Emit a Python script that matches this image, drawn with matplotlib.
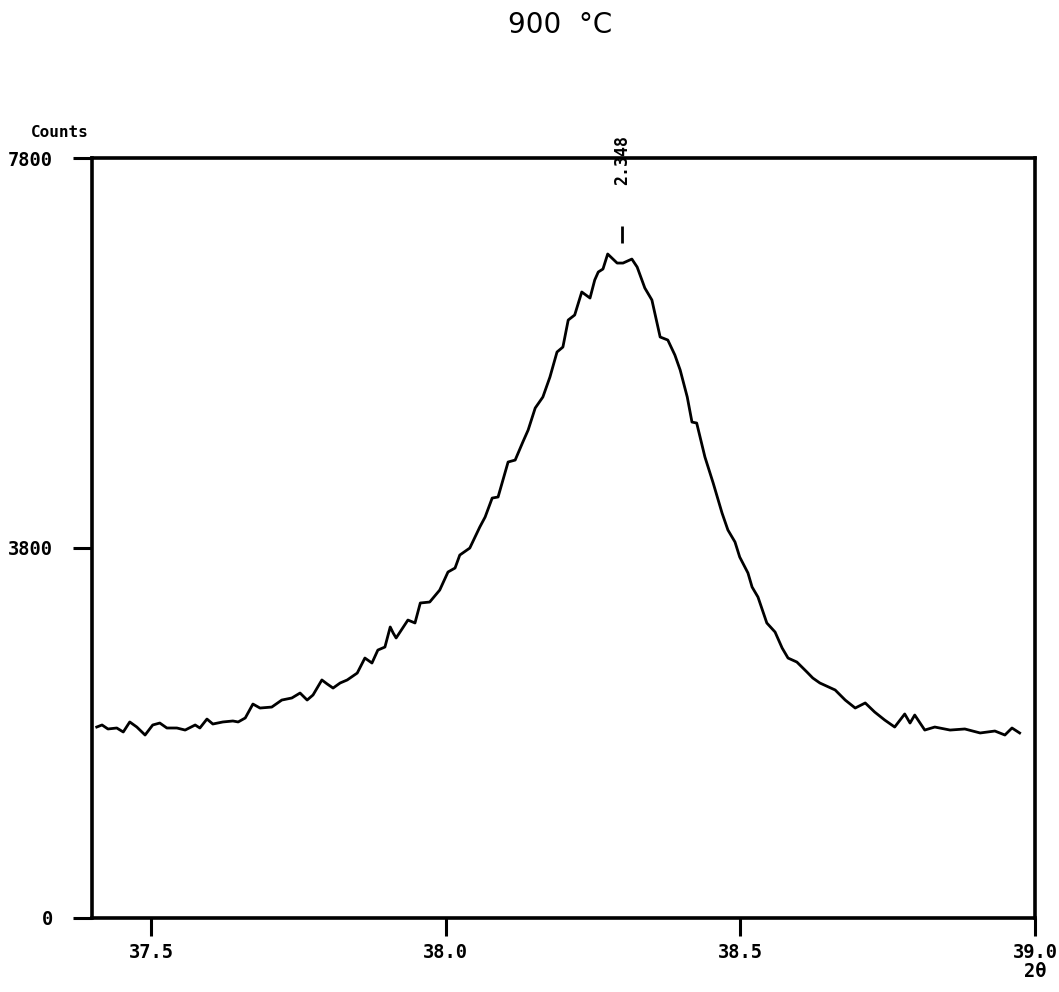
import matplotlib
matplotlib.use("Agg")
import matplotlib.pyplot as plt

# scan around the (111) reflection, 2theta in degrees vs counts
two_theta = [
    37.408, 37.417, 37.427, 37.442, 37.453, 37.464, 37.476, 37.490, 37.503, 37.515,
    37.527, 37.544, 37.558, 37.575, 37.583, 37.595, 37.605, 37.622, 37.639, 37.648,
    37.660, 37.673, 37.685, 37.705, 37.722, 37.739, 37.753, 37.765, 37.775, 37.790,
    37.799, 37.809, 37.821, 37.833, 37.850, 37.863, 37.875, 37.885, 37.897, 37.906,
    37.911, 37.916, 37.936, 37.948, 37.957, 37.973, 37.990, 38.004, 38.016, 38.024,
    38.041, 38.058, 38.067, 38.079, 38.089, 38.106, 38.118, 38.131, 38.140, 38.152,
    38.165, 38.177, 38.189, 38.199, 38.208, 38.219, 38.231, 38.245, 38.253, 38.259,
    38.267, 38.275, 38.291, 38.301, 38.316, 38.325, 38.338, 38.350, 38.364, 38.377,
    38.389, 38.398, 38.410, 38.418, 38.426, 38.440, 38.454, 38.469, 38.479, 38.491,
    38.499, 38.513, 38.520, 38.530, 38.545, 38.559, 38.571, 38.581, 38.596, 38.613,
    38.623, 38.635, 38.661, 38.678, 38.695, 38.712, 38.728, 38.745, 38.762, 38.779,
    38.788, 38.796, 38.813, 38.830, 38.856, 38.881, 38.907, 38.932, 38.949, 38.961,
    38.974,
]
counts = [
    1960, 1981, 1940, 1950, 1909, 2012, 1960, 1878, 1981, 2001,
    1950, 1950, 1929, 1981, 1950, 2042, 1991, 2012, 2022, 2012,
    2053, 2196, 2155, 2165, 2237, 2258, 2309, 2237, 2289, 2443,
    2402, 2360, 2412, 2443, 2514, 2668, 2617, 2750, 2781, 2987,
    2925, 2874, 3058, 3028, 3233, 3243, 3366, 3551, 3592, 3725,
    3797, 4013, 4115, 4310, 4321, 4680, 4700, 4885, 5008, 5234,
    5347, 5552, 5809, 5860, 6137, 6189, 6425, 6363, 6548, 6630,
    6661, 6815, 6722, 6722, 6763, 6681, 6466, 6343, 5963, 5932,
    5778, 5624, 5347, 5090, 5080, 4731, 4464, 4157, 3982, 3859,
    3705, 3541, 3397, 3294, 3028, 2935, 2771, 2668, 2627, 2525,
    2463, 2412, 2340, 2237, 2155, 2207, 2114, 2032, 1960, 2094,
    2001, 2083, 1929, 1960, 1929, 1940, 1899, 1919, 1878, 1950,
    1899,
]

x_ticks = [37.5, 38.0, 38.5, 39.0]
x_labels = ["37.5", "38.0", "38.5", "39.0\n2θ"]
y_ticks = [0, 3800, 7800]
y_labels = ["0", "3800", "7800"]

peak_2theta = 38.30
peak_d = "2.348"
title = "900  °C"

mono = "DejaVu Sans Mono"

fig = plt.figure(figsize=(10.59, 9.92), dpi=100)
ax = fig.add_axes([0.0869, 0.0746, 0.8904, 0.7661])

ax.plot(two_theta, counts, color="black", lw=2.0)

ax.set_xlim(37.4, 39.0)
ax.set_ylim(0, 7800)

for s in ax.spines.values():
    s.set_linewidth(2.6)

ax.set_xticks(x_ticks)
ax.set_xticklabels(x_labels, fontfamily=mono, fontweight="bold", fontsize=13.5,
                   linespacing=1.0)
ax.set_yticks(y_ticks)
ax.set_yticklabels(y_labels, fontfamily=mono, fontweight="bold", fontsize=13.5)
ax.tick_params(axis="x", direction="out", length=13, width=2.2, pad=5)
ax.tick_params(axis="y", direction="out", length=14, width=2.2, pad=14)

# peak marker and d-spacing label
top = max(counts)
ax.vlines(peak_2theta, top + 110, top + 290, color="black", lw=2)
ax.text(peak_2theta, 7780, peak_d, rotation=90, ha="center", va="center",
        fontfamily=mono, fontweight="bold", fontsize=12, clip_on=False)

fig.text(0.029, 0.866, "Counts", fontfamily=mono, fontweight="bold",
         fontsize=11.5, ha="left", va="center")
fig.text(0.529, 0.975, title, fontsize=20, ha="center", va="center")

fig.savefig("out.png", dpi=100)
